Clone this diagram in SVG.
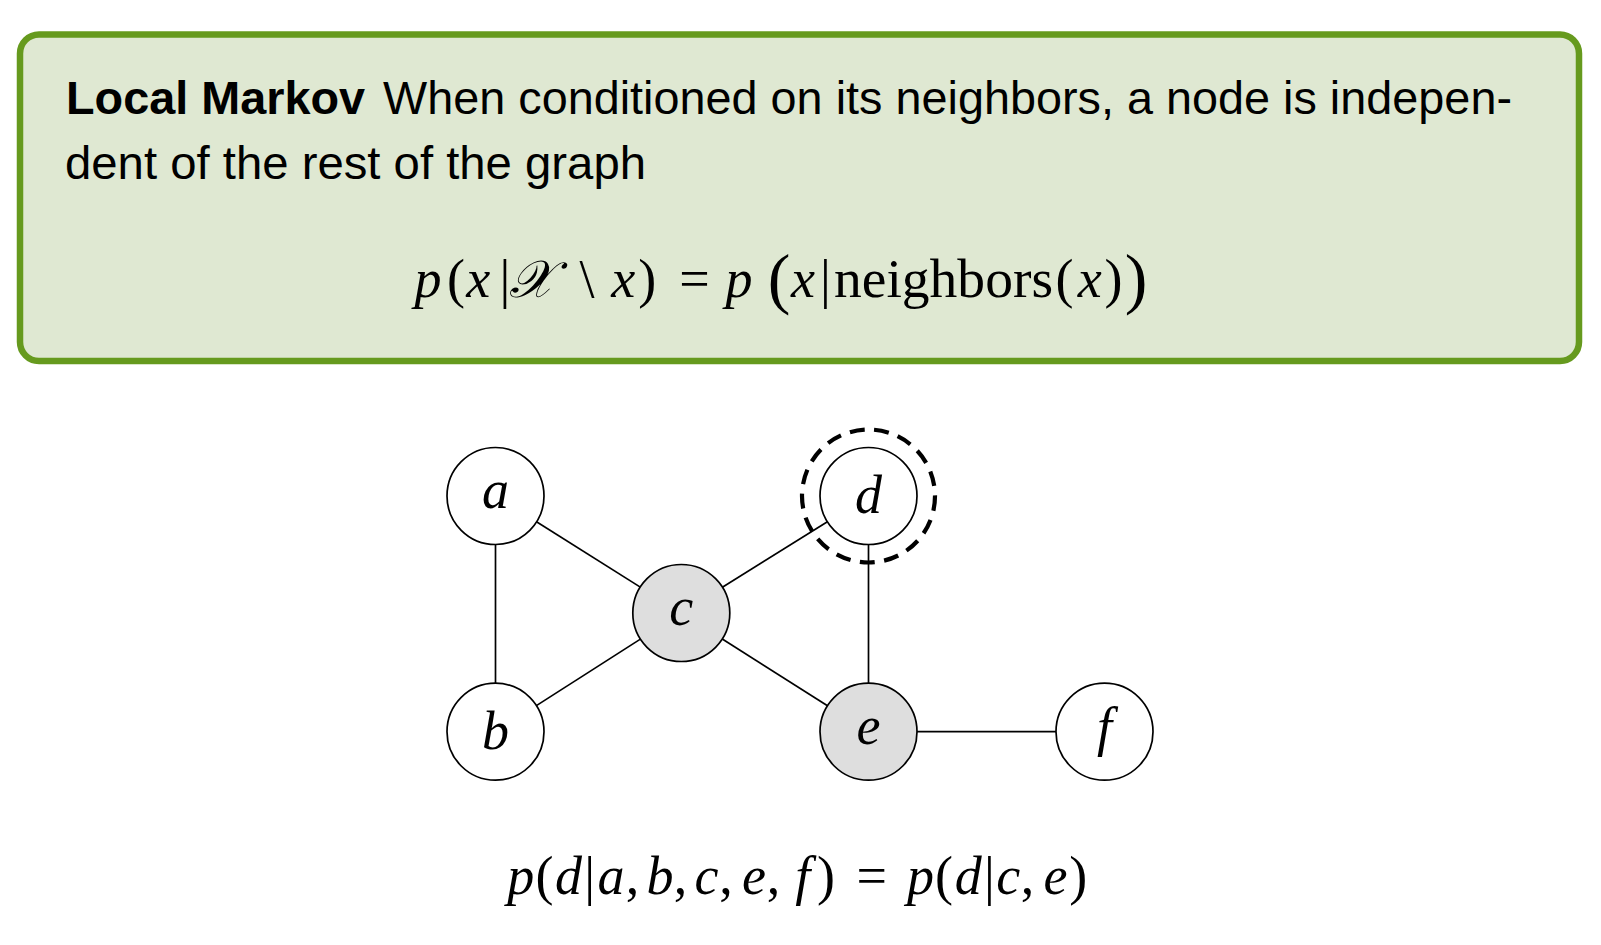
<svg xmlns="http://www.w3.org/2000/svg" width="1601" height="945" viewBox="0 0 1601 945">
<style>
.sans{font-family:"Liberation Sans",Arial,sans-serif;font-size:47px;fill:#000}
.bold{font-weight:bold}
.m{font-family:"Liberation Serif","Times New Roman",serif;font-size:54px;fill:#000;text-anchor:middle}
.i{font-style:italic}
.big{font-size:68px}
.node circle{fill:#fff;stroke:#000;stroke-width:1.7}
.node.shaded circle{fill:#dedede}
.lbl{font-family:"Liberation Serif","Times New Roman",serif;font-style:italic;font-size:54px;text-anchor:middle;fill:#000}
.edges line{stroke:#000;stroke-width:1.7}
</style>
<rect width="1601" height="945" fill="#fff"/>
<g id="definition-box">
<rect x="20" y="34.5" width="1559" height="326.5" rx="19" fill="#dfe8d2" stroke="#669a1e" stroke-width="6.5"/>
<text class="sans bold" x="66" y="113.5" textLength="299" lengthAdjust="spacingAndGlyphs">Local Markov</text>
<text class="sans" x="383" y="113.5" textLength="1129" lengthAdjust="spacingAndGlyphs">When conditioned on its neighbors, a node is indepen-</text>
<text class="sans" x="65" y="179" textLength="581" lengthAdjust="spacingAndGlyphs">dent of the rest of the graph</text>
<text class="m" y="297">
<tspan class="i" x="428">p</tspan><tspan x="456">(</tspan><tspan class="i" x="478.3">x</tspan><tspan x="505">|</tspan><tspan class="i" x="531" style="font-family:'DejaVu Serif','Noto Sans',serif;font-size:52px">𝒳</tspan><tspan x="587">\</tspan><tspan class="i" x="623.3">x</tspan><tspan x="647.3">)</tspan><tspan x="694.5">=</tspan><tspan class="i" x="739">p</tspan><tspan class="big" x="779" dy="4">(</tspan><tspan class="i" x="803" dy="-4">x</tspan><tspan x="825.5">|</tspan><tspan x="943.5" textLength="219" lengthAdjust="spacingAndGlyphs">neighbors</tspan><tspan x="1064.4">(</tspan><tspan class="i" x="1089.8">x</tspan><tspan x="1113.5">)</tspan><tspan class="big" x="1136" dy="4">)</tspan>
</text>
</g>
<g class="edges" id="edges">
<line x1="495.5" y1="544.5" x2="495.5" y2="683.2"/>
<line x1="536.5" y1="521.8" x2="640.3" y2="587.1"/>
<line x1="536.4" y1="705.6" x2="640.4" y2="639.1"/>
<line x1="722.4" y1="587.3" x2="827.4" y2="521.7"/>
<line x1="722.3" y1="639.0" x2="827.5" y2="705.7"/>
<line x1="868.5" y1="544.5" x2="868.5" y2="683.2"/>
<line x1="917" y1="731.7" x2="1056" y2="731.7"/>
</g>
<g class="node" id="node-a"><circle cx="495.5" cy="496" r="48.5"/><text class="lbl" x="495.5" y="508">a</text></g>
<g class="node" id="node-b"><circle cx="495.5" cy="731.7" r="48.5"/><text class="lbl" x="495.5" y="749">b</text></g>
<g class="node shaded" id="node-c"><circle cx="681.3" cy="613" r="48.5"/><text class="lbl" x="681.3" y="625">c</text></g>
<g class="node" id="node-d"><circle cx="868.5" cy="496" r="48.5"/><text class="lbl" x="868.5" y="513">d</text></g>
<g class="node shaded" id="node-e"><circle cx="868.5" cy="731.7" r="48.5"/><text class="lbl" x="868.5" y="744">e</text></g>
<g class="node" id="node-f"><circle cx="1104.5" cy="731.7" r="48.5"/><text class="lbl" x="1104.5" y="745">f</text></g>
<g id="markov-blanket-marker"><circle cx="868.5" cy="496" r="66.5" fill="none" stroke="#000" stroke-width="4.2" stroke-dasharray="15 9.5"/></g>
<g id="example-formula">
<text class="m" y="894">
<tspan class="i" x="520.8">p</tspan><tspan x="544.5">(</tspan><tspan class="i" x="568.6">d</tspan><tspan x="589.7">|</tspan><tspan class="i" x="611.1">a</tspan><tspan x="632.5">,</tspan><tspan class="i" x="660.1">b</tspan><tspan x="680.5">,</tspan><tspan class="i" x="706.5">c</tspan><tspan x="726">,</tspan><tspan class="i" x="753.9">e</tspan><tspan x="773.6">,</tspan><tspan class="i" x="802.8">f</tspan><tspan x="826.1">)</tspan><tspan x="871.8">=</tspan><tspan class="i" x="920.4">p</tspan><tspan x="944.1">(</tspan><tspan class="i" x="968.2">d</tspan><tspan x="989.3">|</tspan><tspan class="i" x="1008.2">c</tspan><tspan x="1027.5">,</tspan><tspan class="i" x="1055.6">e</tspan><tspan x="1078.2">)</tspan>
</text>
</g>
</svg>
